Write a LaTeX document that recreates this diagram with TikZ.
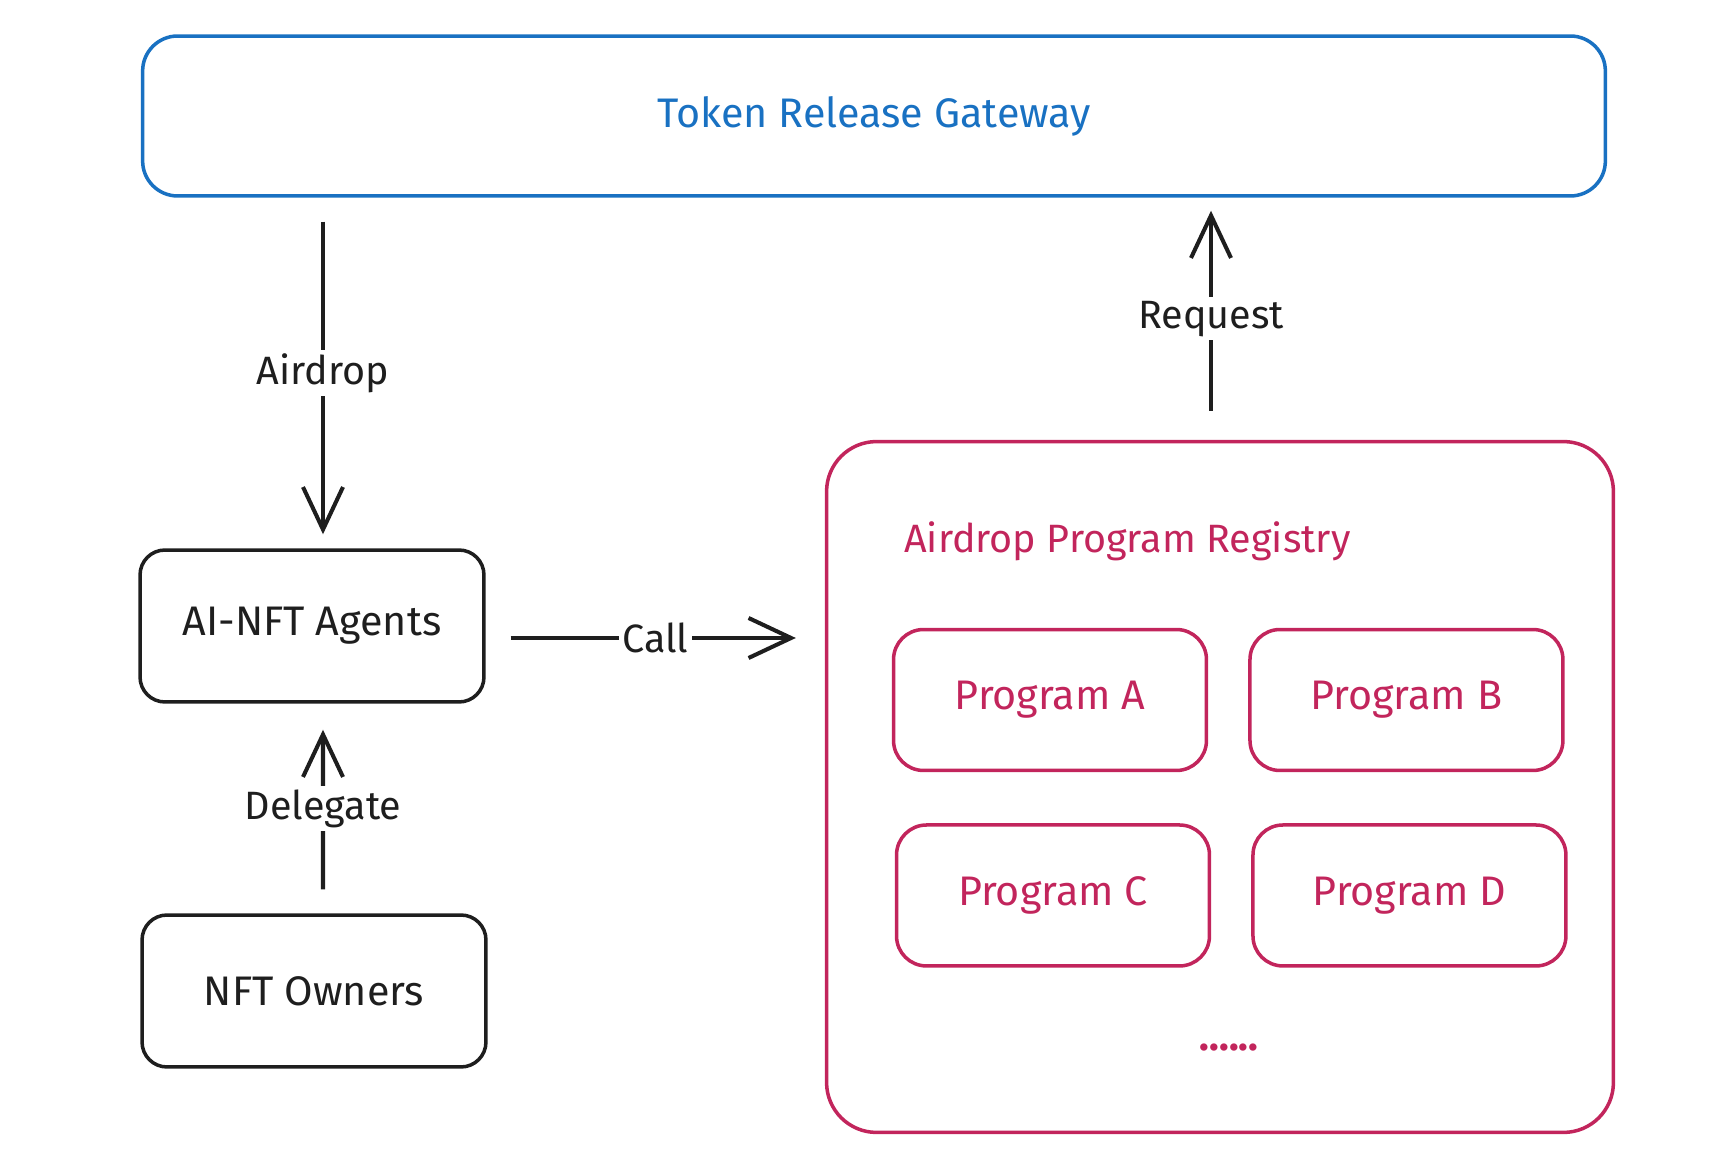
\documentclass[tikz,border=0pt]{standalone}
\usepackage{fontspec}
\setmainfont{Fira Sans}
\usetikzlibrary{arrows.meta, positioning}
\definecolor{gwblue}{HTML}{1971C2}
\definecolor{regpink}{HTML}{C2255C}
\definecolor{inkblack}{HTML}{1E1E1E}

\begin{document}
\begin{tikzpicture}[x=0.02cm, y=-0.02cm, every node/.style={font=\fontsize{23.5}{28}\selectfont, text=inkblack},
  box/.style={draw=inkblack, line width=2pt, rounded corners=0.5cm, minimum width=6.88cm, minimum height=3.04cm},
  progbox/.style={draw=regpink, text=regpink, line width=2pt, rounded corners=0.6cm, minimum width=6.26cm, minimum height=2.82cm},
  arr/.style={-{Straight Barb[length=0.85cm, width=0.8cm]}, line width=2.3pt, draw=inkblack},
  lbl/.style={fill=white, inner sep=2pt, font=\fontsize{22.5}{27}\selectfont}]
  \useasboundingbox (0,0) rectangle (1725,1151);

  % Gateway on top
  \node (gateway) [draw=gwblue, text=gwblue, line width=2pt, rounded corners=0.7cm, minimum width=29.26cm, minimum height=3.2cm] at (874,116) {Token Release Gateway};

  % Left column
  \node (agents) [box] at (312,626) {AI-NFT Agents};
  \node (owners) [box] at (314,991) {NFT Owners};

  % Registry with its programs
  \node (registry) [draw=regpink, line width=2pt, rounded corners=1cm, minimum width=15.74cm, minimum height=13.82cm] at (1220,787) {};
  \node (regtitle) [anchor=west, text=regpink, font=\fontsize{22.5}{27}\selectfont] at (898,541) {Airdrop Program Registry};
  \node (proga) [progbox] at (1050,700) {Program A};
  \node (progb) [progbox, right=0.8cm of proga] {Program B};
  \node (progc) [progbox, below=1.02cm of proga, xshift=0.06cm] {Program C};
  \node (progd) [progbox, right=0.8cm of progc] {Program D};
  \node (more) [text=regpink, font=\bfseries\fontsize{23}{28}\selectfont] at (1229,1048) {......};

  % Arrows
  \draw[arr, shorten <=0.48cm, shorten >=0.28cm] ([xshift=0.22cm]agents.north |- gateway.south) -- node[lbl] {Airdrop} ([xshift=0.22cm]agents.north);
  \draw[arr, shorten <=0.48cm, shorten >=0.52cm] ([xshift=0.18cm]owners.north) -- node[lbl] {Delegate} ([xshift=0.22cm]agents.south);
  \draw[arr, shorten <=0.5cm, shorten >=0.58cm] ([yshift=-0.24cm]agents.east) -- node[lbl] {Call} ([yshift=-0.24cm]agents.east -| registry.west);
  \draw[arr, shorten <=0.58cm, shorten >=0.26cm] ([xshift=-0.18cm]registry.north) -- node[lbl] {Request} ([xshift=-0.18cm]registry.north |- gateway.south);
\end{tikzpicture}
\end{document}
